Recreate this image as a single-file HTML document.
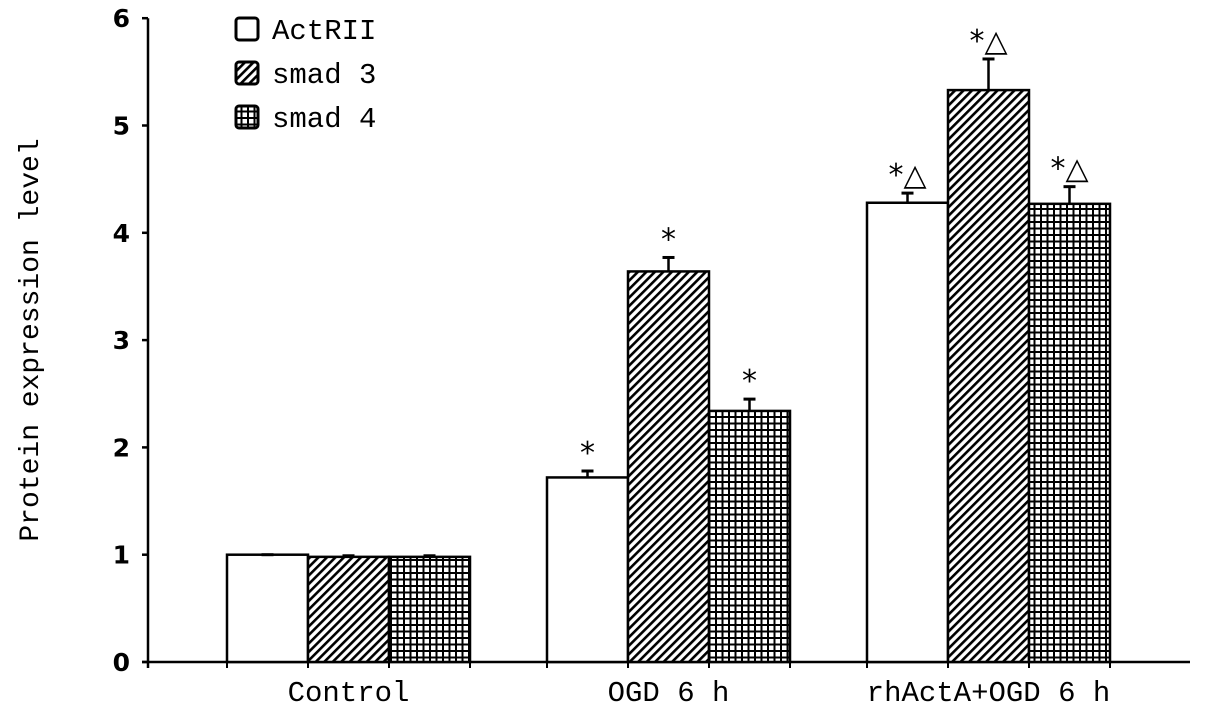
<!DOCTYPE html>
<html><head><meta charset="utf-8"><style>
body{margin:0;background:#fff;}
svg{display:block;}
</style></head><body>
<svg id="chart" width="1205" height="718" xmlns="http://www.w3.org/2000/svg">
<defs>
<pattern id="diag" patternUnits="userSpaceOnUse" width="6" height="6" patternTransform="rotate(45)">
<rect width="6" height="6" fill="#fff"/><rect width="2.6" height="6" fill="#000"/>
</pattern>
<pattern id="grid" patternUnits="userSpaceOnUse" width="6.5" height="6.5">
<rect width="6.5" height="6.5" fill="#fff"/><rect width="2" height="6.5" fill="#000"/><rect width="6.5" height="2" fill="#000"/>
</pattern>
</defs>
<g id="axes"></g>
<g id="bars"></g>
<g id="legend"></g>
</svg>
<script>
const categories = ["Control", "OGD 6 h", "rhActA+OGD 6 h"];
const seriesNames = ["ActRII", "smad 3", "smad 4"];
const actrii = [1.0, 1.72, 4.28];
const smad3 = [0.98, 3.64, 5.33];
const smad4 = [0.98, 2.34, 4.27];
const actriiErr = [0.0, 0.06, 0.09];
const smad3Err = [0.01, 0.13, 0.29];
const smad4Err = [0.01, 0.11, 0.16];
const marks = [["", "*", "*\u25B3"], ["", "*", "*\u25B3"], ["", "*", "*\u25B3"]];
const yTicks = [0, 1, 2, 3, 4, 5, 6];

const NS = "http://www.w3.org/2000/svg";
const x0 = 148, yBase = 662, yUnit = 107.3;
const yScale = v => yBase - v * yUnit;
const groupStart = [227, 547, 867];
const barW = 81;
const fills = ["#fff", "url(#diag)", "url(#grid)"];
const series = [actrii, smad3, smad4];
const errs = [actriiErr, smad3Err, smad4Err];
function mk(tag, attrs, parent){const e=document.createElementNS(NS,tag);for(const k in attrs)e.setAttribute(k,attrs[k]);parent.appendChild(e);return e;}

const axes = document.getElementById("axes");
const ya = mk("line",{x1:x0,y1:yScale(6),x2:x0,y2:yBase+6,stroke:"#000","stroke-width":2.5},axes);


const xa = mk("line",{x1:x0-6,y1:yBase,x2:1190,y2:yBase,stroke:"#000","stroke-width":2.5},axes);


yTicks.forEach(t=>{
  mk("line",{x1:x0-6,y1:yScale(t),x2:x0,y2:yScale(t),stroke:"#000","stroke-width":2.5},axes);
  const tx = mk("text",{x:130,y:yScale(t)+9,"text-anchor":"end","font-family":"DejaVu Sans, sans-serif","font-size":25,"font-weight":"bold"},axes);
  tx.textContent = t;
  
  
});
const yt = mk("text",{x:0,y:0,transform:"translate(38,340) rotate(-90)","text-anchor":"middle","font-family":"Liberation Mono, monospace","font-size":28},axes);
yt.textContent = "Protein expression level";


categories.forEach((c,i)=>{
  for(let k=0;k<=3;k++){
    const tx0 = groupStart[i]+k*barW;
    mk("line",{x1:tx0,y1:yBase,x2:tx0,y2:yBase+6,stroke:"#000","stroke-width":2},axes);
  }
  const tx = mk("text",{x:groupStart[i]+barW*1.5,y:701,"text-anchor":"middle","font-family":"Liberation Mono, monospace","font-size":29},axes);
  tx.textContent = c;
  
  
});

const bars = document.getElementById("bars");
series.forEach((s,si)=>{
  s.forEach((v,ci)=>{
    const x = groupStart[ci]+si*barW;
    const r = mk("rect",{x:x,y:yScale(v),width:barW,height:yBase-yScale(v),fill:fills[si],stroke:"#000","stroke-width":2.5},bars);
    
    
    const cx = x+barW/2, top = yScale(v+errs[si][ci]);
    mk("line",{x1:cx,y1:yScale(v),x2:cx,y2:top,stroke:"#000","stroke-width":2.5},bars);
    mk("line",{x1:cx-6,y1:top,x2:cx+6,y2:top,stroke:"#000","stroke-width":3},bars);
    if(marks[si][ci]){
      const m = mk("text",{x:cx,y:top-8,"text-anchor":"middle","font-family":"DejaVu Sans, sans-serif","font-size":30},bars);
      m.textContent = marks[si][ci];
      
      
    }
  });
});

const lg = document.getElementById("legend");
seriesNames.forEach((n,i)=>{
  const y = 18 + i*44;
  const r = mk("rect",{x:236,y:y,width:22,height:22,rx:3,fill:fills[i],stroke:"#000","stroke-width":3},lg);
  
  
  const t = mk("text",{x:272,y:y+21,"font-family":"Liberation Mono, monospace","font-size":29},lg);
  t.textContent = n;
  
  
});
</script>
</body></html>
